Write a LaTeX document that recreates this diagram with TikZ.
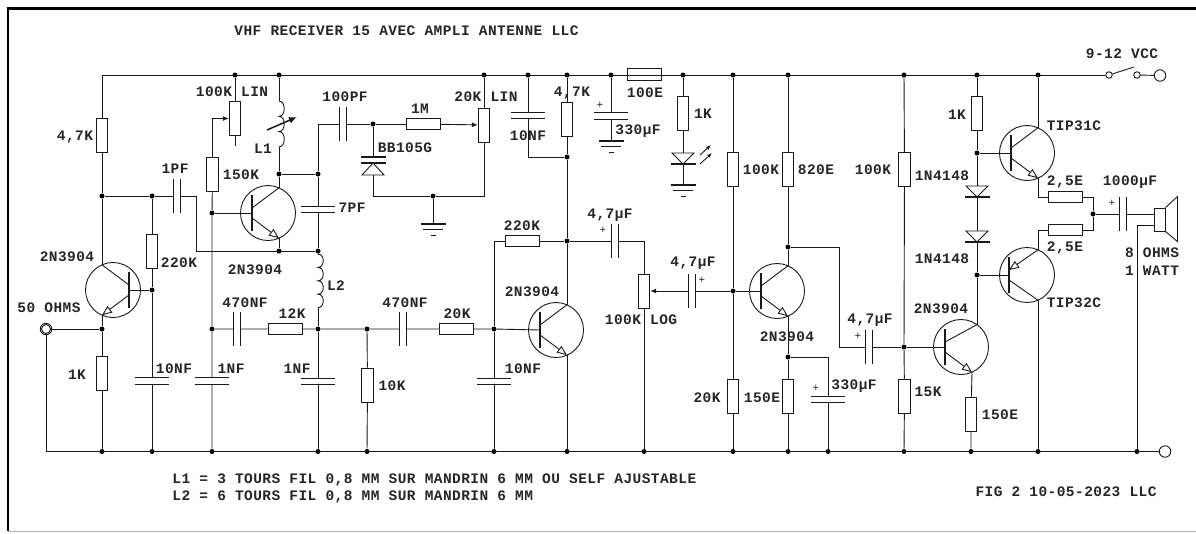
\documentclass[tikz,border=0pt]{standalone}
\usepackage{fontspec}
\newfontfamily\schfont[LetterSpace=3]{Liberation Mono}
\usetikzlibrary{arrows.meta}

\tikzset{
  % labels and simple parts
  lab/.style={font=\schfont\bfseries\fontsize{14.5}{15}\selectfont, inner sep=0pt, text=black!85},
  plus/.style={font=\schfont\fontsize{11}{11}\selectfont, inner sep=0pt, text=black!85},
  dot/.style={circle, fill=black, draw=none, inner sep=0pt, minimum size=5pt},
  rv/.style={draw, rectangle, inner sep=0pt, fill=white, minimum width=11.5pt, minimum height=34pt},
  rh/.style={draw, rectangle, inner sep=0pt, fill=white, minimum width=34pt, minimum height=11.5pt},
  capv/.style={rectangle, inner sep=0pt, minimum width=34pt, minimum height=5.5pt,
    append after command={(\tikzlastnode.north west) edge (\tikzlastnode.north east)
      (\tikzlastnode.south west) edge (\tikzlastnode.south east)}},
  caph/.style={rectangle, inner sep=0pt, minimum width=6pt, minimum height=34pt,
    append after command={(\tikzlastnode.north west) edge (\tikzlastnode.south west)
      (\tikzlastnode.north east) edge (\tikzlastnode.south east)}},
  term/.style={draw, circle, inner sep=0pt, minimum size=6.5pt},
  bigterm/.style={draw, circle, inner sep=0pt, minimum size=11.5pt},
  wip/.style={-{Latex[length=6pt,width=5pt]}},
  opentip/.style={-{Triangle[open,fill=white,length=10pt,width=8pt]}},
  pics/npn/.style={code={
    \draw (0,0) circle[radius=27.5];
    \draw[line width=2.2pt] (-16,-18) -- (-16,18);
    \coordinate (-b) at (-16,0);
    \coordinate (-c) at ({#1},{-sqrt(756.25-#1*#1)});
    \coordinate (-e) at (11,25.2);
    \draw (-16,-5) -- (-c);
    \draw[opentip] (-16,5) -- (-e);
  }},
  pics/npn/.default=11,
  pics/pnp/.style={code={
    \draw (0,0) circle[radius=27.5];
    \draw[line width=2.2pt] (-18,-18) -- (-18,18);
    \coordinate (-b) at (-18,0);
    \coordinate (-e) at (11,-25.2);
    \coordinate (-c) at (11,25.2);
    \draw (-18,5) -- (-c);
    \draw[opentip] (-e) -- (-18,-5);
  }},
  pics/coil/.style 2 args={code={
    \coordinate (-a) at (0,0);
    \coordinate (-b) at (0,{#1*#2});
    \draw (0,0) foreach \i in {1,...,#1} { .. controls +(7,0) and +(7,0) .. ++(0,#2) };
  }},
  pics/gnd/.style={code={
    \coordinate (-a) at (0,0);
    \draw[line width=2pt] (-12.5,0) -- (12.5,0);
    \draw (-10,5) -- (10,5);
    \draw (-2.5,11) -- (2.5,11);
  }},
  % diode, cathode bar at the bottom
  pics/diode/.style={code={
    \coordinate (-a) at (0,0);
    \coordinate (-k) at (0,11);
    \draw (-11,0) -- (11,0) -- (0,11) -- cycle;
    \draw[line width=2pt] (-12.5,11) -- (12.5,11);
  }},
  pics/led/.style={code={
    \coordinate (-a) at (0,0);
    \coordinate (-k) at (0,11);
    \draw (-11,0) -- (11,0) -- (0,11) -- cycle;
    \draw[line width=2pt] (-12.5,11) -- (12.5,11);
    \draw[-{Latex[length=5pt,width=4pt]}] (17,2) -- (28,-8);
    \draw[-{Latex[length=5pt,width=4pt]}] (17,11) -- (29,0);
  }},
  pics/varicap/.style={code={
    \coordinate (-k) at (0,0);
    \coordinate (-a) at (0,18);
    \draw[line width=1.6pt] (-12.5,0) -- (12.5,0);
    \draw[line width=1.6pt] (-12.5,6) -- (12.5,6);
    \draw (0,6) -- (-11,18) -- (11,18) -- cycle;
  }}
}

\begin{document}
\begin{tikzpicture}[x=1pt, y=-1pt, line width=0.9pt, black!90]
  \useasboundingbox (0,0) rectangle (1196,533);

  % frame
  \draw[line width=2.6pt, black] (1196,8.5) -- (8,8.5) -- (8,531);
  \draw[line width=0.5pt, black!30] (8,531.5) -- (1196,531.5);

  % terminals
  \node[bigterm] (coax_o) at (46,329) {};
  \node[term, minimum size=9pt] (coax) at (46,329) {};
  \node[term] (sw1) at (1109,75) {};
  \node[term] (sw2) at (1137,75) {};
  \node[bigterm] (vcc) at (1160,75.5) {};
  \node[bigterm] (out_b) at (1165,451.5) {};
  \coordinate (sw_blade) at (1134,67);

  % dots on the supply rail
  \node[dot] (top_vr1) at (235,75) {};
  \node[dot] (top_l1) at (279,75) {};
  \node[dot] (top_vr2) at (484,75) {};
  \node[dot] (top_c10) at (528,75) {};
  \node[dot] (top_r10) at (567,75) {};
  \node[dot] (top_c11) at (611,75) {};
  \node[dot] (top_r12) at (683,75) {};
  \node[dot] (top_r13) at (733,75) {};
  \node[dot] (top_r14) at (788,75) {};
  \node[dot] (top_r15) at (904,75) {};
  \node[dot] (top_r16) at (977,75) {};
  \node[dot] (top_q6) at (1038,75) {};

  % dots on the bottom rail
  \node[dot] (bot_r2) at (102,451.5) {};
  \node[dot] (bot_c2) at (152,451.5) {};
  \node[dot] (bot_c3) at (212,451.5) {};
  \node[dot] (bot_c4) at (318,451.5) {};
  \node[dot] (bot_r7) at (367,451.5) {};
  \node[dot] (bot_c9) at (494,451.5) {};
  \node[dot] (bot_q3) at (567,451.5) {};
  \node[dot] (bot_vr3) at (644,451.5) {};
  \node[dot] (bot_r17) at (733,451.5) {};
  \node[dot] (bot_r18) at (788,451.5) {};
  \node[dot] (bot_c13) at (828,451.5) {};
  \node[dot] (bot_r19) at (904,451.5) {};
  \node[dot] (bot_r20) at (971,451.5) {};
  \node[dot] (bot_q7) at (1038,451.5) {};
  \node[dot] (bot_spk) at (1137,451.5) {};

  % other dots
  \node[dot] (q1_col) at (102,196) {};
  \node[dot] (q1_em) at (102,329) {};
  \node[dot] (c1_l) at (152,196) {};
  \node[dot] (q1_base) at (152,290) {};
  \node[dot] (q2_base) at (212,213) {};
  \node[dot] (c7_l) at (212,329) {};
  \node[dot] (q2_col) at (279,174) {};
  \node[dot] (q2_em) at (279,251) {};
  \node[dot] (c5_t) at (318,174) {};
  \node[dot] (c5_b) at (318,251) {};
  \node[dot] (l2_b) at (318,329) {};
  \node[dot] (c8_l) at (367,329) {};
  \node[dot] (d1_k) at (373,124) {};
  \node[dot] (gnd1_t) at (433,196) {};
  \node[dot] (q3_base) at (494,329) {};
  \node[dot] (c10_b) at (567,157) {};
  \node[dot] (q3_col) at (567,241) {};
  \node[dot] (q4_base) at (733,291) {};
  \node[dot] (q4_col) at (788,247) {};
  \node[dot] (q4_em) at (788,357) {};
  \node[dot] (q5_base) at (904,347) {};
  \node[dot] (q6_base) at (977,153) {};
  \node[dot] (q7_base) at (977,275) {};
  \node[dot] (out_j) at (1093,214) {};

  % resistors and pots
  \node[rv] (r1) at (102,135) {};
  \node[rv] (r2) at (102,373) {};
  \node[rv] (r3) at (152,251) {};
  \node[rv] (r4) at (212.5,174) {};
  \node[rv] (vr1) at (235,118.5) {};
  \node[rh] (r5) at (285,329) {};
  \node[rh] (r6) at (423,124) {};
  \node[rv] (r7) at (367.5,385) {};
  \node[rh] (r8) at (456,329) {};
  \node[rh] (r9) at (522.5,241) {};
  \node[rv] (vr2) at (484,125) {};
  \node[rv] (r10) at (567,119) {};
  \node[rh] (r11) at (644,74.5) {};
  \node[rv] (r12) at (683,113.5) {};
  \node[rv] (vr3) at (644,291) {};
  \node[rv] (r13) at (733,169.5) {};
  \node[rv] (r14) at (788,169.5) {};
  \node[rv] (r15) at (904.5,169.5) {};
  \node[rv] (r16) at (977,113.5) {};
  \node[rv] (r17) at (733,396) {};
  \node[rv] (r18) at (788,396) {};
  \node[rv] (r19) at (904.5,396) {};
  \node[rv] (r20) at (971,414) {};
  \node[rh] (r21) at (1065.5,197) {};
  \node[rh] (r22) at (1065.5,230) {};

  % capacitors
  \node[caph] (c1) at (177,196) {};
  \node[capv] (c2) at (152,381) {};
  \node[capv] (c3) at (212,381) {};
  \node[capv] (c4) at (318,381.5) {};
  \node[capv] (c5) at (318,209.5) {};
  \node[caph] (c6) at (343,124) {};
  \node[caph] (c7) at (237,329) {};
  \node[caph] (c8) at (403,329) {};
  \node[capv] (c9) at (494,381.5) {};
  \node[capv] (c10) at (528,115.5) {};
  \node[capv] (c11) at (611,116) {};
  \node[caph] (c12) at (614.5,241) {};
  \node[caph] (c14) at (691.5,291) {};
  \node[capv] (c13) at (828,399.5) {};
  \node[caph] (c15) at (869,347) {};
  \node[caph] (c16) at (1123,214) {};

  % semiconductors
  \pic[xscale=-1] (q1) at (113,290) {npn};
  \pic (q2) at (268,213) {npn};
  \pic (q3) at (556,330) {npn};
  \pic (q4) at (777,291) {npn};
  \pic (q5) at (961,347) {npn=16};
  \pic (q6) at (1027,153) {npn};
  \pic (q7) at (1027,275) {pnp};
  \pic (d1) at (373,157) {varicap};
  \pic (d2) at (683,153) {led};
  \pic (d3) at (977,186) {diode};
  \pic (d4) at (977,231) {diode};
  \pic (l1) at (279,101) {coil={3}{15.3}};
  \pic (l2) at (318,254) {coil={4}{13.4}};
  \pic (gnd1) at (433,224) {gnd};
  \pic (gnd2) at (611,141) {gnd};
  \pic (gnd3) at (683,185) {gnd};

  % loudspeaker
  \node[draw, rectangle, inner sep=0pt, minimum width=11pt, minimum height=23pt] (spk) at (1159.5,219.5) {};
  \draw (spk.north east) -- ++(12,-11) -- ++(0,45) -- (spk.south east);
  \coordinate (spk_a) at (1154,214);
  \coordinate (spk_b) at (1154,225);

  % rails
  \draw (r1) |- (sw1);
  \draw (sw1) -- (sw_blade);
  \draw (sw2) -- (vcc);
  \draw (coax_o) |- (out_b);

  % first transistor
  \draw (r1) -- (q1_col) -- (q1-c);
  \draw (q1-e) -- (q1_em) -- (r2) -- (bot_r2);
  \draw (coax_o) -- (q1_em);
  \draw (q1-b) -- (q1_base);
  \draw (q1_col) -- (c1_l) -- (c1);
  \draw (c1_l) -- (r3) -- (q1_base) -- (c2) -- (bot_c2);
  \coordinate (c1_corner) at (196,251);
  \draw (c1) -| (c1_corner) -- (c5_b);

  % second transistor
  \coordinate (vr1_end) at (235,146);
  \draw (top_vr1) -- (vr1) -- (vr1_end);
  \draw[wip] (r4) |- (vr1);
  \draw (r4) -- (q2_base) -- (c7_l) -- (c3) -- (bot_c3);
  \draw (q2_base) -- (q2-b);
  \draw (top_l1) -- (l1-a);
  \draw (l1-b) -- (q2_col) -- (q2-c);
  \draw (q2-e) -- (q2_em);
  \coordinate (l1_from) at (267,130);
  \coordinate (l1_to) at (297,117);
  \draw[line width=1.5pt, -{Latex[length=8pt,width=7pt]}] (l1_from) -- (l1_to);
  \draw (q2_col) -- (c5_t) -- (c5) -- (c5_b);
  \coordinate (c6_corner) at (318,124);
  \draw (c5_t) -- (c6_corner) -- (c6) -- (d1_k) -- (r6);
  \draw (d1_k) -- (d1-k);
  \draw[wip] (r6) -- (vr2);
  \draw (top_vr2) -- (vr2);
  \coordinate (vr2_corner) at (484,196);
  \coordinate (d1_corner) at (373,196);
  \draw (vr2) -- (vr2_corner) -- (gnd1_t) -- (d1_corner) -- (d1-a);
  \draw (gnd1_t) -- (gnd1-a);

  % input filter
  \draw (c5_b) -- (l2-a);
  \draw (l2-b) -- (l2_b) -- (c4) -- (bot_c4);
  \draw (c7_l) -- (c7) -- (r5) -- (l2_b) -- (c8_l) -- (c8) -- (r8) -- (q3_base) -- (q3-b);
  \draw (c8_l) -- (r7) -- (bot_r7);
  \draw (q3_base) -- (c9) -- (bot_c9);

  % third transistor
  \coordinate (r9_corner) at (494,241);
  \draw (q3_base) -- (r9_corner) -- (r9) -- (q3_col) -- (c12);
  \draw (top_r10) -- (r10) -- (c10_b) -- (q3_col) -- (q3-c);
  \draw (q3-e) -- (bot_q3);
  \coordinate (c10_corner) at (528,157);
  \draw (top_c10) -- (c10) -- (c10_corner) -- (c10_b);
  \draw (top_c11) -- (c11) -- (gnd2-a);
  \draw (top_r12) -- (r12) -- (d2-a);
  \draw (d2-k) -- (gnd3-a);
  \coordinate (c12_corner) at (644,241);
  \draw (c12) -- (c12_corner) -- (vr3) -- (bot_vr3);
  \draw[wip] (c14) -- (vr3);

  % fourth transistor
  \draw (c14) -- (q4_base) -- (q4-b);
  \draw (top_r13) -- (r13) -- (q4_base) -- (r17) -- (bot_r17);
  \draw (top_r14) -- (r14) -- (q4_col) -- (q4-c);
  \draw (q4-e) -- (q4_em) -- (r18) -- (bot_r18);
  \coordinate (c13_corner) at (828,357);
  \draw (q4_em) -- (c13_corner) -- (c13) -- (bot_c13);
  \coordinate (q4_corner_a) at (839,247);
  \coordinate (q4_corner_b) at (839,347);
  \draw (q4_col) -- (q4_corner_a) -- (q4_corner_b) -- (c15) -- (q5_base) -- (q5-b);

  % output stage
  \draw (top_r15) -- (r15) -- (q5_base) -- (r19) -- (bot_r19);
  \draw (q5-e) -- (r20) -- (bot_r20);
  \draw (q5-c) -- (q7_base) -- (q7-b);
  \draw (top_r16) -- (r16) -- (q6_base) -- (q6-b);
  \draw (q6_base) -- (d3-a);
  \draw (d3-k) -- (d4-a);
  \draw (d4-k) -- (q7_base);
  \draw (top_q6) -- (q6-c);
  \draw (q7-c) -- (bot_q7);
  \draw (q6-e) |- (r21);
  \draw (q7-e) |- (r22);
  \draw (r21) -| (out_j);
  \draw (r22) -| (out_j);
  \draw (out_j) -- (c16) -- (spk_a);
  \coordinate (spk_corner) at (1137,225);
  \draw (spk_b) -- (spk_corner) -- (bot_spk);

  % texts
  \node[lab, anchor=west] (title) at (234,31) {VHF RECEIVER 15 AVEC AMPLI ANTENNE LLC};
  \node[lab] (t_r1) at (75,137) {4,7K};
  \node[lab] (t_vr1) at (232,92) {100K LIN};
  \node[lab] (t_l1) at (263,149) {L1};
  \node[lab] (t_c6) at (345,97) {100PF};
  \node[lab] (t_d1) at (405,148) {BB105G};
  \node[lab] (t_r6) at (420,109) {1M};
  \node[lab] (t_vr2) at (486,97) {20K LIN};
  \node[lab] (t_c1) at (175,169) {1PF};
  \node[lab] (t_r4) at (241,175) {150K};
  \node[lab] (t_c5) at (352,208) {7PF};
  \node[lab] (t_q1) at (67,257) {2N3904};
  \node[lab] (t_r3) at (179,263) {220K};
  \node[lab] (t_q2) at (255,270) {2N3904};
  \node[lab] (t_l2) at (336,286) {L2};
  \node[lab] (t_in) at (49,308) {50 OHMS};
  \node[lab] (t_c7) at (245,303) {470NF};
  \node[lab] (t_r5) at (292,314) {12K};
  \node[lab] (t_r2) at (77,375) {1K};
  \node[lab] (t_c2) at (174,369) {10NF};
  \node[lab] (t_c3) at (231,369) {1NF};
  \node[lab] (t_c4) at (297,369) {1NF};
  \node[lab] (t_r7) at (392,386) {10K};
  \node[lab] (t_c8) at (405,303) {470NF};
  \node[lab] (t_r8) at (457,314) {20K};
  \node[lab, anchor=west] (note1) at (172,480) {L1 = 3 TOURS FIL 0,8 MM SUR MANDRIN 6 MM OU SELF AJUSTABLE};
  \node[lab, anchor=west] (note2) at (172,497) {L2 = 6 TOURS FIL 0,8 MM SUR MANDRIN 6 MM};
  \node[lab] (t_q3) at (532,292) {2N3904};
  \node[lab] (t_c9) at (523,369) {10NF};
  \node[lab] (t_vr3) at (641,320) {100K LOG};
  \node[lab] (t_c12) at (610,215) {4,7µF};
  \node[lab] (t_c14) at (693,263) {4,7µF};
  \node[lab] (t_c15) at (870,320) {4,7µF};
  \node[lab] (t_r9) at (522,226) {220K};
  \node[lab] (t_r10) at (572,93) {4,7K};
  \node[lab] (t_c10) at (528,136) {10NF};
  \node[lab] (t_c11) at (638,131) {330µF};
  \node[lab] (t_r11) at (645,93) {100E};
  \node[lab] (t_r12) at (703,114) {1K};
  \node[lab] (t_r13) at (761,170) {100K};
  \node[lab] (t_r14) at (816,170) {820E};
  \node[lab] (t_r15) at (873,170) {100K};
  \node[lab] (t_q4) at (787,337) {2N3904};
  \node[lab] (t_r17) at (707,398) {20K};
  \node[lab] (t_r18) at (762,398) {150E};
  \node[lab] (t_c13) at (854,386) {330µF};
  \node[lab] (t_r19) at (928,392) {15K};
  \node[lab] (t_r20) at (1000,415) {150E};
  \node[lab] (t_q5) at (941,309) {2N3904};
  \node[lab] (t_r16) at (957,115) {1K};
  \node[lab] (t_d3) at (942,176) {1N4148};
  \node[lab] (t_d4) at (942,259) {1N4148};
  \node[lab] (t_q6) at (1074,126) {TIP31C};
  \node[lab] (t_q7) at (1074,303) {TIP32C};
  \node[lab] (t_r21) at (1065,182) {2,5E};
  \node[lab] (t_r22) at (1065,248) {2,5E};
  \node[lab] (t_c16) at (1130,182) {1000µF};
  \node[lab] (t_spk1) at (1152,253) {8 OHMS};
  \node[lab] (t_spk2) at (1152,271) {1 WATT};
  \node[lab] (t_vcc) at (1122,54) {9-12 VCC};
  \node[lab] (t_fig) at (1066,492) {FIG 2 10-05-2023 LLC};
  \node[plus] (p_c11) at (600,105) {+};
  \node[plus] (p_c12) at (603,230) {+};
  \node[plus] (p_c14) at (702,280) {+};
  \node[plus] (p_c15) at (858,336) {+};
  \node[plus] (p_c13) at (816,388) {+};
  \node[plus] (p_c16) at (1112,203) {+};
\end{tikzpicture}
\end{document}
